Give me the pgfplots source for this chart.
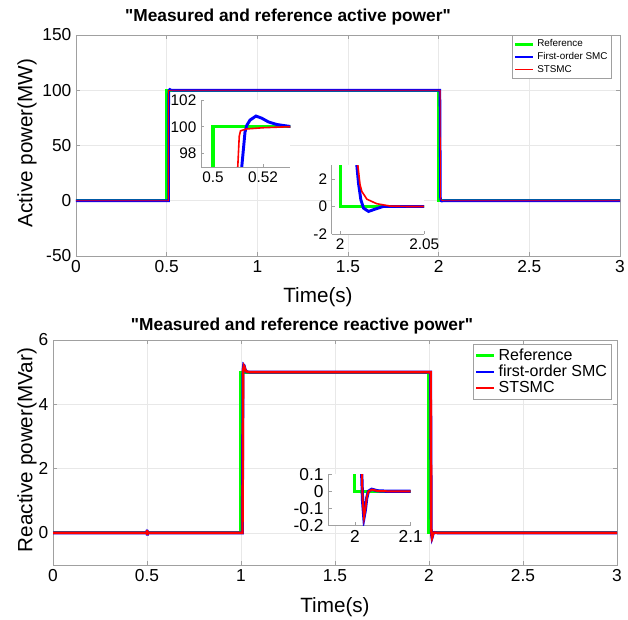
\documentclass[border=0pt]{standalone}
\usepackage{fontspec}
\setmainfont{Liberation Sans}
\usepackage{pgfplots}
\pgfplotsset{compat=1.18}
\usepackage{pgfplotstable}

\definecolor{mgreen}{RGB}{0,255,0}
\definecolor{mblue}{RGB}{0,0,255}
\definecolor{mred}{RGB}{255,0,0}
\definecolor{axgray}{RGB}{160,160,160}

% active power: reference, first-order SMC, STSMC
\pgfplotstableread{
x y
0 0
0.5 0
0.5 100
2 100
2 0
3 0
}\topref
\pgfplotstableread{
x y
0 0
0.5105 0
0.5115 97
0.5128 99.6
0.5135 100.1
0.5148 100.5
0.5172 100.8
0.5195 100.64
0.5222 100.36
0.5255 100.17
0.531 100.02
0.54 100
2.007 100
2.0085 50
2.0099 3
2.0109 1.7
2.0123 0.49
2.0139 -0.12
2.0169 -0.36
2.0208 -0.19
2.0256 0
3 0
}\topfo
\pgfplotstableread{
x y
0 0
0.5093 0
0.5099 97
0.5105 99.3
0.5110 99.7
0.5135 99.84
0.5201 99.93
0.53 100
2.008 100
2.0095 50
2.0105 3
2.0118 1.6
2.0129 1.09
2.0159 0.53
2.0218 0.2
2.0298 0.03
2.04 0
3 0
}\topst

% reactive power
\pgfplotstableread{
x y
0 0
0.999 0
0.999 5
1.999 5
1.999 0
3 0
}\botref
\pgfplotstableread{
x y
0 0
0.499 0
0.5005 0.09
0.502 -0.08
0.504 0.02
0.507 0
1.007 0
1.0105 5.05
1.014 5.22
1.017 5.2
1.022 5.08
1.03 5.01
1.05 5
2.0085 5
2.012 0.11
2.0135 -0.05
2.016 -0.155
2.0185 -0.11
2.021 -0.04
2.024 0
2.03 0.012
2.04 0.003
2.06 0
3 0
}\botfo
\pgfplotstableread{
x y
0 0
0.499 0
0.5005 0.08
0.502 -0.07
0.504 0.02
0.507 0
1.008 0
1.0115 5.05
1.015 5.2
1.018 5.17
1.023 5.06
1.032 5.01
1.05 5
2.009 5
2.0122 0.11
2.0137 -0.05
2.0162 -0.15
2.0187 -0.1
2.0212 -0.035
2.0242 0
2.031 0.01
2.04 0.002
2.06 0
3 0
}\botst

\pgfplotsset{
  mainax/.style={
    scale only axis,
    axis line style={axgray, line width=0.5pt},
    tick style={axgray, line width=0.5pt},
    tick align=inside,
    major tick length=3pt,
    grid=major,
    grid style={gray!18, line width=0.4pt},
    tick label style={font=\fontsize{13}{15}\selectfont, text=black},
    /pgf/number format/assume math mode=true,
    legend cell align=left,
    legend image code/.code={\draw[##1] (0pt,0pt) -- (13.5pt,0pt);},
  },
  insetax/.style={
    scale only axis,
    axis x line*=bottom,
    axis y line*=left,
    axis line style={axgray, line width=0.5pt, -},
    tick style={axgray, line width=0.5pt},
    tick align=inside,
    major tick length=2.5pt,
    axis background/.style={fill=white},
    tick label style={font=\fontsize{11.5}{13}\selectfont, text=black},
    /pgf/number format/assume math mode=true,
  },
}

\begin{document}
\begin{tikzpicture}[x=0.75pt, y=0.75pt]
\useasboundingbox (0,0) rectangle (628,619);

% ---------- active power ----------
\begin{axis}[mainax,
  at={(57pt,272.25pt)}, anchor=south west,
  width=408pt, height=165.75pt,
  xmin=0, xmax=3, ymin=-50, ymax=150,
  xtick={0,0.5,...,3}, ytick={-50,0,50,100,150},
  legend style={at={(1,1)}, anchor=north east, xshift=-6pt, yshift=0pt,
    draw=axgray, fill=white, inner sep=1.2pt, row sep=-1.2pt,
    font=\fontsize{7.4}{8.8}\selectfont},
]
\addplot[mgreen, line width=2.3pt] table[x=x, y=y] {\topref};
\addlegendentry{Reference}
\addplot[mblue, line width=1.9pt] table[x=x, y=y] {\topfo};
\addlegendentry{First-order SMC}
\addplot[mred, line width=0.6pt] table[x=x, y=y] {\topst};
\addlegendentry{STSMC}
\end{axis}

\begin{axis}[insetax,
  at={(150.75pt,339pt)}, anchor=south west,
  width=67.1pt, height=50.25pt,
  xmin=0.4952, xmax=0.531, ymin=97, ymax=102,
  xtick={0.5,0.52}, ytick={98,100,102},
  xticklabels={0.5,0.52},
]
\addplot[mgreen, line width=2.5pt] table[x=x, y=y] {\topref};
\addplot[mblue, line width=2.2pt] table[x=x, y=y] {\topfo};
\addplot[mred, line width=1.2pt] table[x=x, y=y] {\topst};
\end{axis}

\begin{axis}[insetax,
  at={(248.8pt,288.75pt)}, anchor=south west,
  width=69.3pt, height=51.6pt,
  xmin=1.995, xmax=2.05, ymin=-2, ymax=3,
  xtick={2,2.05}, ytick={-2,0,2},
  xticklabels={2,2.05},
]
\addplot[mgreen, line width=2.5pt] table[x=x, y=y] {\topref};
\addplot[mblue, line width=2.2pt] table[x=x, y=y] {\topfo};
\addplot[mred, line width=1.2pt] table[x=x, y=y] {\topst};
\end{axis}

% ---------- reactive power ----------
\begin{axis}[mainax,
  at={(39.75pt,40.5pt)}, anchor=south west,
  width=423pt, height=168.75pt,
  xmin=0, xmax=3, ymin=-1, ymax=6,
  xtick={0,0.5,...,3}, ytick={0,2,4,6},
  legend style={at={(1,1)}, anchor=north east, xshift=-3.75pt, yshift=-3pt,
    draw=axgray, fill=white, inner sep=1.5pt, row sep=-2pt,
    font=\fontsize{12}{14.5}\selectfont},
]
\addplot[mgreen, line width=2.3pt] table[x=x, y=y] {\botref};
\addlegendentry{Reference}
\addplot[mblue, line width=2.2pt] table[x=x, y=y] {\botfo};
\addlegendentry{first-order SMC}
\addplot[mred, line width=1.8pt] table[x=x, y=y] {\botst};
\addlegendentry{STSMC}
\end{axis}

\begin{axis}[insetax,
  at={(246.2pt,70.1pt)}, anchor=south west,
  width=61.8pt, height=38.5pt,
  xmin=1.952, xmax=2.1, ymin=-0.2, ymax=0.1,
  xtick={2,2.1}, ytick={-0.2,-0.1,0,0.1},
  xticklabels={2,2.1}, yticklabels={-0.2,-0.1,0,0.1},
  tick label style={font=\fontsize{13}{14}\selectfont, text=black},
]
\addplot[mgreen, line width=2.5pt] table[x=x, y=y] {\botref};
\addplot[mblue, line width=2.4pt] table[x=x, y=y] {\botfo};
\addplot[mred, line width=1.5pt] table[x=x, y=y] {\botst};
\end{axis}

% ---------- titles and labels ----------
\node[font=\bfseries\fontsize{13}{15}\selectfont] at (288,602) {\textquotedbl Measured and reference active power\textquotedbl};
\node[font=\bfseries\fontsize{13}{15}\selectfont] at (302,293) {\textquotedbl Measured and reference reactive power\textquotedbl};
\node[font=\fontsize{15.5}{18}\selectfont] at (318,322) {Time(s)};
\node[font=\fontsize{15.5}{18}\selectfont] at (335,12) {Time(s)};
\node[font=\fontsize{15.5}{18}\selectfont, rotate=90] at (27,476) {Active power(MW)};
\node[font=\fontsize{15.5}{18}\selectfont, rotate=90] at (27,169) {Reactive power(MVar)};
\end{tikzpicture}
\end{document}
